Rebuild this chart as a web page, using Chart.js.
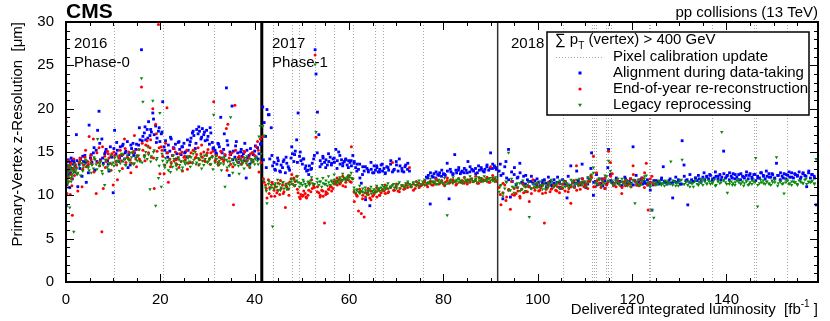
<!DOCTYPE html>
<html>
<head>
<meta charset="utf-8">
<script src="https://cdn.jsdelivr.net/npm/chart.js@4.4.1/dist/chart.umd.min.js"></script>
<style>
  html, body { margin: 0; padding: 0; background: #fff; }
  #pvChart { display: block; }
</style>
</head>
<body>
<canvas id="pvChart" width="830" height="321"></canvas>
<script>
// delivered luminosity (fb^-1) of each run, per year
const lumi2016 = [
  0.05,0.1,0.15,0.2,0.25,0.3,0.4,0.5,0.6,0.7,0.8,0.9,1.0,1.1,1.2,1.35,1.5,1.65,1.8,1.95,
  2.2,2.5,2.8,3.1,3.4,3.7,4.0,4.3,4.6,4.9,5.2,5.5,5.8,6.1,6.4,6.7,7.0,7.3,7.6,7.9,8.2,8.5,8.8,9.1,9.4,9.7,
  10.0,10.3,10.6,10.9,11.2,11.5,11.8,12.1,12.4,12.7,13.0,13.3,13.6,13.9,14.2,14.5,14.8,15.1,15.4,15.7,
  16.0,16.3,16.6,16.9,17.2,17.5,17.8,18.1,18.4,18.7,19.0,19.3,19.6,19.9,20.2,
  20.5,20.8,21.1,21.4,21.7,22.0,22.3,22.6,22.9,23.2,23.5,23.8,24.1,24.4,24.7,25.0,25.3,25.6,25.9,
  26.2,26.5,26.8,27.1,27.4,27.7,28.0,28.3,28.6,28.9,29.2,29.5,29.8,30.1,30.4,30.7,31.0,31.3,
  31.6,31.9,32.2,32.5,32.8,33.1,33.4,33.7,34.0,34.3,34.6,34.9,35.2,35.5,35.8,36.1,36.4,36.7,37.0,37.3,
  37.6,37.9,38.2,38.5,38.8,39.1,39.4,39.7,40.0,40.3,40.6,40.9,41.2
];
const align2016 = [
  8.8,12.1,13.5,11.2,12.8,13.9,12.4,14.1,12.9,13.3,10.9,13.8,12.6,14.3,13.1,11.9,13.6,14.0,12.7,13.4,
  17.0,11.0,13.6,14.2,12.2,13.9,14.6,11.5,13.4,18.1,14.3,13.8,14.9,12.9,15.2,17.5,19.7,14.1,16.5,13.7,14.8,15.3,14.0,12.8,15.6,14.4,
  10.3,17.5,14.8,15.2,13.9,15.6,14.6,15.9,14.2,15.1,16.2,14.7,13.5,15.4,16.0,14.9,15.3,14.5,15.8,16.4,
  26.8,16.8,17.2,16.4,17.6,18.5,16.9,17.3,19.5,17.0,18.0,16.6,17.4,16.2,17.1,
  20.8,15.6,16.3,14.9,15.8,15.1,16.5,14.6,15.4,15.9,14.8,16.1,15.3,14.7,15.6,16.0,15.0,14.4,15.2,
  15.8,16.6,17.2,16.9,15.4,17.6,17.1,17.4,16.5,17.7,17.0,16.3,17.5,16.8,15.9,17.2,16.1,15.5,
  15.2,14.8,16.0,15.6,19.0,14.9,15.3,14.6,22.4,15.8,12.3,14.7,20.3,15.1,14.4,16.2,14.9,14.2,15.0,14.5,
  14.8,16.0,12.0,14.3,14.6,15.4,13.9,14.7,15.1,14.4,15.5,14.8,15.9
];
const reco2016 = [
  18.5,11.3,12.6,10.2,13.0,12.1,14.0,11.6,13.2,12.8,13.5,10.1,12.4,13.7,11.9,7.7,13.1,14.2,12.3,13.6,
  13.2,10.5,13.8,14.1,11.0,13.5,14.4,13.3,13.9,16.8,14.6,13.6,16.5,14.2,10.2,13.8,15.5,14.0,5.8,10.8,14.5,13.9,15.1,14.3,13.7,14.8,
  11.2,14.6,13.9,11.8,14.3,15.2,14.0,14.7,16.5,13.8,14.4,15.0,14.1,13.7,14.9,16.9,14.2,14.6,15.3,14.0,
  22.5,15.2,14.6,15.8,16.3,14.9,15.5,14.4,20.0,10.8,18.2,15.1,29.7,12.5,15.6,
  14.5,12.5,16.0,20.1,11.5,14.2,13.8,14.6,14.0,15.0,13.6,14.3,14.8,13.9,12.8,14.4,14.1,15.2,13.7,
  14.5,14.9,13.8,15.2,14.3,14.7,15.5,14.1,14.8,14.4,15.0,13.9,14.6,15.3,14.2,14.9,14.5,20.8,
  14.0,14.6,13.8,14.4,15.1,14.2,13.9,14.7,17.7,18.2,14.3,13.6,14.9,8.9,20.4,14.1,13.8,14.5,14.2,13.7,
  14.4,15.0,14.0,13.5,14.3,14.8,14.1,13.9,14.6,15.6,16.2,12.7,16.5
];
const legacy2016 = [
  10.8,10.0,12.4,11.8,13.1,12.6,11.4,13.5,12.2,12.9,8.6,13.3,12.0,11.6,13.0,12.5,12.8,5.8,13.2,12.7,
  13.0,12.6,13.4,12.3,13.7,13.2,13.6,14.0,13.3,12.9,13.8,13.5,13.1,14.2,13.6,16.5,13.4,13.9,12.8,13.5,11.2,14.1,13.3,13.7,12.9,13.6,
  13.8,14.3,13.6,14.5,14.0,13.7,14.8,13.9,14.2,13.5,14.6,14.1,13.8,14.4,15.0,13.7,14.3,14.0,14.6,13.9,
  23.5,20.8,14.4,15.0,14.2,14.7,10.7,14.5,20.9,15.2,8.8,14.3,12.0,19.5,11.0,
  14.0,13.5,14.3,13.8,12.9,14.1,13.6,13.3,14.2,13.7,13.0,14.4,13.5,13.9,13.2,14.0,13.6,13.8,14.3,
  13.9,14.4,13.7,14.1,15.0,13.8,14.3,13.6,14.5,14.0,13.5,14.2,14.7,13.9,14.1,13.6,14.4,19.3,
  13.8,14.2,13.5,14.0,13.7,14.3,13.6,11.0,14.1,13.9,13.4,19.0,14.2,13.7,13.5,14.0,13.8,12.5,14.1,13.6,
  13.9,14.3,13.7,14.0,13.5,14.2,13.8,14.1,13.6,14.4,14.0,16.8,18.0
];
// second group of 2016 runs (between the ones above)
const lumi2016b = [
  0.45,0.85,1.25,1.75,
  2.35,2.95,3.55,4.15,4.75,5.35,5.95,6.55,7.15,7.75,
  8.35,8.95,9.55,10.15,10.75,11.35,11.95,12.55,13.15,13.75,
  14.35,14.95,15.55,16.15,16.75,17.35,17.95,18.55,19.15,19.75,
  20.35,20.95,21.55,22.15,22.75,23.35,23.95,24.55,25.15,25.75,
  26.35,26.95,27.55,28.15,28.75,29.35,29.95,30.55,31.15,31.75,
  32.35,32.95,33.55,34.15,34.75,35.35,35.95,36.55,37.15,37.75,
  38.35,38.95,39.55,40.15,40.75,41.35
];
const align2016b = [
  13.2,12.5,14.0,13.7,
  14.0,13.1,14.5,13.8,12.6,14.7,15.5,13.9,16.0,14.3,
  15.0,13.6,14.5,15.4,16.1,14.3,15.7,14.9,13.2,15.8,
  14.6,15.9,17.8,16.3,17.9,16.6,17.6,18.8,16.1,17.8,
  17.3,15.2,14.4,16.7,15.5,14.2,16.2,15.6,14.9,16.4,
  16.2,17.4,16.0,17.9,16.7,17.3,16.4,17.8,15.4,14.9,
  15.9,14.3,17.1,16.3,15.0,14.1,15.7,13.8,15.3,14.0,
  15.2,13.6,14.9,15.7,14.2,16.0
];
const reco2016b = [
  12.0,13.4,11.1,12.9,
  12.5,14.3,13.0,15.2,13.6,14.1,12.7,14.9,13.4,15.6,
  13.2,14.8,12.9,15.0,13.5,14.6,13.1,15.4,14.3,12.6,
  15.1,13.3,14.2,16.0,14.0,15.7,16.4,14.3,17.1,15.5,
  15.2,13.5,14.9,13.3,15.4,14.1,13.2,15.0,14.5,13.0,
  13.8,15.2,14.4,13.5,15.8,14.0,14.9,13.6,15.1,14.2,
  13.5,15.0,14.1,12.9,14.7,13.3,15.2,14.4,13.6,15.1,
  14.0,13.2,14.9,14.5,15.2,13.8
];
const legacy2016b = [
  11.6,12.9,12.2,13.6,
  12.4,13.9,12.8,14.1,13.2,12.6,14.4,13.0,13.7,12.5,
  14.1,13.0,14.6,13.4,14.0,12.8,14.7,13.5,14.2,14.9,
  13.6,14.5,15.3,13.8,14.6,15.6,13.9,15.0,14.1,13.4,
  14.8,13.2,14.0,12.7,14.6,13.4,14.1,12.9,13.8,14.5,
  13.3,14.8,13.6,14.2,13.1,14.6,13.8,14.3,13.0,14.5,
  13.6,12.9,14.4,13.2,13.9,12.6,14.2,13.4,14.0,13.1,
  14.5,13.3,13.9,14.2,13.6,14.8
];

const lumi2017 = [
  41.7,42.0,42.3,42.6,42.9,43.2,43.5,43.8,44.1,44.4,
  44.7,45.0,45.3,45.6,45.9,46.2,46.5,46.8,47.1,47.4,
  47.7,48.0,48.3,48.6,48.9,49.2,49.5,49.8,50.1,50.4,
  50.7,51.0,51.3,51.6,51.9,52.2,52.5,52.8,53.0,53.3,
  53.6,53.9,54.2,54.5,54.8,55.1,55.4,55.7,56.0,56.3,
  56.6,56.9,57.2,57.5,57.8,58.1,58.4,58.7,59.0,59.3,
  59.6,59.9,60.2,60.5,60.8,61.1,61.4,61.7,62.0,62.3,
  62.6,62.9,63.2,63.5,63.8,64.1,64.4,64.7,65.0,65.3,
  65.6,65.9,66.2,66.5,66.8,67.1,67.4,67.7,68.0,68.4,
  68.8,69.2,69.6,70.0,70.4,70.8,71.2,71.6,72.0,72.4,
  72.8,73.2,73.6,74.0,74.4,74.8,75.2,75.6,76.0,76.4,
  76.8,77.2,77.6,78.0,78.4,78.8,79.2,79.6,80.0,80.4,
  80.8,81.2,81.6,82.0,82.4,82.8,83.2,83.6,84.0,84.4,
  84.8,85.2,85.6,86.0,86.4,86.8,87.2,87.6,88.0,88.4,
  88.8,89.2,89.6,90.0,90.4,90.8,91.2
];
const align2017 = [
  20.2,18.4,16.8,19.9,19.3,14.2,17.8,13.4,13.8,12.9,
  13.6,14.0,12.8,13.5,13.2,14.1,12.6,13.7,13.3,12.9,
  14.3,14.8,13.9,15.1,16.4,19.5,14.5,14.0,13.6,14.2,
  13.1,12.8,12.9,13.4,13.0,13.7,14.2,26.8,24.0,19.6,
  17.0,14.0,13.6,14.3,13.8,14.1,13.5,13.9,14.4,13.7,
  14.2,13.8,15.3,14.0,15.0,13.6,14.1,13.7,13.9,14.2,
  13.5,14.0,13.8,13.4,14.6,13.9,13.2,13.6,13.0,12.0,
  11.4,13.3,12.8,9.5,13.1,12.7,8.8,13.0,12.6,13.4,
  12.9,13.2,12.7,13.0,13.5,12.8,13.1,12.6,13.3,12.9,
  13.6,12.7,13.0,13.9,12.8,13.4,13.1,12.7,13.5,13.0,
  12.8,null,null,null,null,null,null,null,null,12.1,
  12.3,9.0,12.2,12.5,12.0,12.4,12.6,12.2,12.5,12.3,
  13.7,9.6,12.7,12.4,14.7,12.6,12.9,12.5,12.8,12.6,
  12.9,13.9,12.7,13.0,12.8,13.1,12.6,12.9,13.2,12.8,
  13.0,13.3,12.9,14.9,13.1,13.4,13.0
];
const reco2017 = [
  16.8,11.5,11.2,9.7,11.8,10.9,9.9,11.3,10.6,11.0,
  10.3,11.4,10.1,10.8,11.2,10.4,8.6,11.0,10.7,11.5,
  11.9,11.3,12.0,11.6,12.2,10.3,9.8,10.1,9.9,10.5,
  10.2,9.7,10.0,11.4,10.4,10.8,11.1,26.2,16.7,11.0,
  10.3,10.0,10.6,9.9,6.8,10.4,10.2,10.7,11.0,10.5,
  10.8,11.3,11.6,11.2,11.8,11.4,11.7,11.1,11.9,11.5,
  11.8,12.1,11.6,15.6,11.9,9.3,10.2,9.9,8.2,10.4,
  7.9,10.0,7.5,9.8,10.3,10.1,9.7,10.5,9.9,10.2,
  10.4,9.8,10.6,10.0,10.3,10.7,10.5,10.2,10.8,10.4,
  10.9,13.8,10.6,11.0,10.5,10.8,11.1,10.7,11.2,10.9,
  13.2,11.0,11.3,10.8,11.2,11.4,11.1,11.3,11.5,11.2,
  11.4,11.6,11.2,11.5,11.3,11.7,11.4,11.6,11.3,11.5,
  11.7,11.4,11.8,11.5,11.6,11.3,11.9,11.5,11.7,11.4,
  11.6,11.8,11.5,11.9,11.6,11.7,11.4,12.0,11.6,11.8,
  11.7,12.0,11.5,13.3,11.8,11.9,11.6
];
const legacy2017 = [
  18.0,16.9,10.9,9.1,11.3,10.7,11.2,6.4,10.8,11.4,
  11.0,10.6,11.3,10.9,11.5,10.8,11.1,10.7,11.4,11.2,
  11.6,11.3,11.8,11.2,11.7,11.5,11.0,11.4,11.2,11.6,
  11.3,11.1,11.5,11.2,11.7,11.4,11.3,25.1,17.3,11.5,
  11.2,11.6,11.0,11.4,11.3,11.7,11.1,11.5,11.2,11.6,
  11.4,11.8,11.3,11.7,11.5,11.9,11.6,11.8,12.0,11.7,
  12.1,11.8,12.3,12.0,11.9,10.6,10.3,10.7,10.4,10.2,
  10.5,10.8,10.3,10.6,10.1,10.4,10.7,10.2,10.5,10.3,
  10.6,10.4,10.8,10.5,10.9,10.6,11.0,10.7,11.1,10.8,
  11.0,11.2,10.9,11.1,11.3,10.8,11.2,11.0,11.4,11.1,
  11.3,11.0,11.4,11.2,11.5,11.1,11.3,11.6,11.2,11.4,
  11.5,11.3,11.6,11.4,11.7,11.3,11.5,11.6,11.4,11.2,
  7.7,11.5,11.7,11.4,11.6,11.8,11.5,11.7,11.4,11.6,
  11.8,11.5,11.7,11.9,11.6,11.8,11.5,11.7,12.0,11.6,
  11.8,11.6,11.9,11.7,12.0,11.6,11.8
];
const lumi2017b = [
  41.85,42.45,43.05,43.65,44.25,44.85,45.45,46.05,46.65,47.25,
  47.85,48.45,49.05,49.65,50.25,50.85,51.45,52.05,52.65,53.25,
  53.85,54.45,55.05,55.65,56.25,56.85,57.45,58.05,58.65,59.25,
  59.85,60.45,61.05,61.65,62.25,62.85,63.45,64.05,64.65,65.25,
  65.85,66.45,67.05,67.65,68.25,68.85,69.45,70.05,70.65,71.25,
  71.85,72.45,73.05,73.65,74.25,74.85,75.45,76.05,76.65,77.25,
  77.85,78.45,79.05,79.65,80.25,80.85,81.45,82.05,82.65,83.25,
  83.85,84.45,85.05,85.65,86.25,86.85,87.45,88.05,88.65,89.25,
  89.85,90.45,91.05
];
const align2017b = [
  14.1,13.2,19.3,14.6,13.0,14.3,12.7,13.9,14.4,13.1,
  15.6,14.7,13.8,15.0,14.2,13.4,12.4,13.1,14.6,14.9,
  13.3,14.5,13.2,14.8,13.5,14.3,13.1,14.6,13.4,14.1,
  13.2,14.0,13.7,12.8,13.6,12.4,13.3,12.9,13.8,12.6,
  13.4,12.7,13.6,12.5,13.2,14.0,12.9,13.5,14.2,12.8,
  13.3,13.7,null,null,null,null,null,null,12.0,12.6,
  12.1,12.7,12.3,12.9,12.4,12.8,13.0,12.5,12.9,13.2,
  12.7,13.1,12.6,13.3,12.9,12.5,13.4,13.0,12.7,13.5,
  13.1,13.6,13.2
];
const reco2017b = [
  11.9,10.8,10.2,11.5,9.9,10.6,11.7,10.2,11.3,10.0,
  12.4,11.1,10.7,9.6,10.0,9.8,10.6,11.8,10.9,10.4,
  9.8,10.5,10.1,10.7,11.0,11.6,12.0,11.3,12.2,11.0,
  12.3,11.5,10.4,10.0,10.7,9.6,10.3,10.8,9.5,10.1,
  10.9,10.0,10.6,11.2,10.3,11.0,10.6,11.3,10.4,11.1,
  10.8,11.4,11.0,10.6,11.6,10.9,11.2,11.7,11.0,11.6,
  11.2,11.9,11.3,11.7,11.1,12.0,11.5,11.8,11.2,11.9,
  11.5,12.1,11.3,11.8,11.6,12.2,11.4,11.9,11.7,12.1,
  11.5,12.3,11.8
];
const legacy2017b = [
  11.7,10.5,11.6,10.9,11.2,11.8,10.6,11.5,11.1,10.8,
  11.9,11.1,12.2,11.4,11.8,11.0,11.6,12.1,11.3,11.9,
  11.6,12.0,11.3,12.2,11.7,12.4,11.5,12.1,12.5,11.9,
  12.2,12.6,10.9,10.6,11.1,10.4,10.9,10.5,11.0,10.7,
  11.1,10.8,11.2,10.9,11.4,11.0,11.3,10.8,11.5,11.2,
  11.0,11.6,11.2,11.5,11.1,11.7,11.3,11.8,11.4,11.9,
  11.6,11.3,11.8,11.5,12.0,11.4,11.7,12.1,11.6,11.9,
  11.5,12.0,11.7,12.2,11.6,11.9,12.1,11.7,12.2,11.8,
  12.0,11.7,12.1
];

const lumi2018 = [
  91.8,92.2,92.6,93.0,93.4,93.8,94.2,94.6,95.0,95.4,
  95.8,96.2,96.6,97.0,97.4,97.8,98.2,98.6,99.0,99.4,
  99.8,100.2,100.6,101.0,101.4,101.8,102.2,102.6,103.0,103.4,
  103.8,104.2,104.6,105.0,105.4,105.8,106.2,106.6,107.0,107.4,
  107.8,108.2,108.6,109.0,109.4,109.8,110.2,110.6,111.0,111.4,
  111.8,112.2,112.6,113.0,113.4,113.8,114.2,114.6,115.0,115.4,
  115.8,116.2,116.6,117.0,117.4,117.8,118.2,118.6,119.0,119.4,
  119.8,120.2,120.6,121.0,121.4,121.8,122.2,122.6,123.0,123.4,
  123.8,124.2,124.6,125.0,125.4,125.8,126.2,126.6,127.0,127.4,
  127.8,128.2,128.6,129.0,129.4,129.8,130.2,130.6,131.0,131.4,
  131.8,132.2,132.6,133.0,133.4,133.8,134.2,134.6,135.0,135.4,
  135.8,136.2,136.6,137.0,137.4,137.8,138.2,138.6,139.0,139.4,
  139.8,140.2,140.6,141.0,141.4,141.8,142.2,142.6,143.0,143.4,
  143.8,144.2,144.6,145.0,145.4,145.8,146.2,146.6,147.0,147.4,
  147.8,148.2,148.6,149.0,149.4,149.8,150.2,150.6,151.0,151.4,
  151.8,152.2,152.6,153.0,153.4,153.8,154.2,154.6,155.0,155.4,
  155.8,156.2,156.6,157.0,157.4,157.8,158.2,158.6,159.0
];
const align2018 = [
  12.8,12.3,9.6,13.3,12.0,15.3,9.8,11.6,12.4,11.2,
  12.1,13.7,11.5,12.2,11.3,11.8,11.0,11.6,11.4,11.7,
  11.2,11.5,11.0,11.4,11.8,10.9,11.3,11.6,11.1,11.4,
  11.2,12.1,11.5,10.8,11.3,11.6,9.7,11.2,13.4,11.5,
  11.0,11.4,11.7,11.2,13.6,11.5,10.9,11.3,11.8,14.9,
  10.0,11.6,11.2,11.9,11.4,11.1,11.7,11.3,15.3,12.4,
  11.5,11.2,11.8,11.4,11.6,11.1,11.5,11.9,11.3,11.6,
  11.4,15.6,11.7,11.2,11.5,11.8,11.3,11.6,11.4,11.2,
  11.5,8.3,11.7,11.3,11.6,11.4,11.8,13.3,11.5,11.3,
  11.7,11.4,9.7,11.6,11.5,11.8,11.3,16.3,13.5,11.7,
  8.9,11.5,11.8,11.6,12.0,11.7,11.9,11.5,12.1,11.8,
  12.2,11.9,12.3,11.7,12.0,12.2,11.9,12.4,12.1,15.1,
  12.0,12.3,11.8,12.2,12.5,11.9,12.1,12.4,11.8,12.2,
  12.0,12.3,11.9,12.5,12.1,12.4,11.7,12.2,12.0,12.6,
  12.3,11.9,12.2,12.5,12.1,12.4,12.0,13.7,12.3,11.8,
  12.2,12.5,11.9,12.3,12.1,12.6,12.0,12.4,12.2,12.7,
  12.1,12.5,12.3,11.0,12.6,12.0,12.4,12.2,8.9
];
// end-of-year re-reconstruction only exists up to ~124.6 fb^-1
const reco2018 = [
  10.9,8.9,10.3,11.2,9.8,10.6,8.4,10.1,10.8,10.2,
  10.5,9.9,10.7,10.3,11.0,10.4,9.3,10.8,11.8,10.6,
  11.0,10.5,10.9,10.2,6.8,10.7,11.1,10.4,10.8,11.2,
  10.6,11.0,10.3,10.9,11.3,10.5,11.1,10.8,9.1,11.4,
  10.9,13.4,11.2,10.7,11.5,11.0,11.3,10.8,11.6,12.1,
  14.5,11.0,11.7,11.3,10.9,11.5,12.0,11.2,15.1,13.8,
  12.5,11.4,11.0,11.6,11.2,10.2,11.5,11.1,11.7,11.3,
  11.0,13.4,11.6,11.2,11.8,11.4,12.0,10.9,13.7,8.3,
  11.5,12.2,11.3
];
const legacy2018 = [
  10.4,11.2,9.9,10.8,11.5,14.9,10.6,11.0,10.3,11.3,
  10.9,11.4,10.7,11.1,10.5,11.2,7.5,10.8,11.3,10.9,
  11.4,11.0,11.2,10.7,11.5,11.1,10.9,11.3,11.6,11.0,
  11.2,11.5,10.8,11.3,11.7,11.0,11.4,10.9,11.2,11.6,
  11.3,11.8,11.1,11.5,11.2,11.6,11.0,11.4,11.9,12.4,
  13.2,11.5,11.3,11.8,11.1,11.6,11.4,12.2,14.0,12.8,
  11.7,11.3,11.5,11.9,11.2,11.6,11.4,11.8,11.1,11.5,
  11.3,11.7,9.1,11.4,11.8,11.2,11.6,11.9,12.3,11.5,
  11.2,8.3,7.4,11.5,11.3,11.6,11.2,11.4,11.7,11.3,
  11.5,13.9,11.2,11.6,11.4,11.1,11.7,14.1,11.3,11.5,
  11.2,11.6,11.4,11.0,11.7,11.3,11.5,11.8,11.2,11.6,
  11.4,11.7,11.3,11.5,11.8,11.2,11.6,11.4,17.3,11.7,
  11.5,10.3,11.3,11.6,11.4,11.2,11.7,11.5,11.3,11.6,
  11.4,11.7,11.2,11.5,11.3,11.6,14.3,8.7,11.4,11.5,
  11.7,11.3,11.6,11.4,11.2,11.5,11.8,14.4,11.4,11.6,
  11.3,10.2,11.5,11.7,11.4,11.2,11.6,11.5,11.3,11.7,
  11.5,11.4,11.8,11.3,11.6,11.5,11.7,11.4,14.2
];
const lumi2018b = [
  92.05,92.65,93.25,93.85,94.45,95.05,95.65,96.25,96.85,97.45,
  98.05,98.65,99.25,99.85,100.45,101.05,101.65,102.25,102.85,103.45,
  104.05,104.65,105.25,105.85,106.45,107.05,107.65,108.25,108.85,109.45,
  110.05,110.65,111.25,111.85,112.45,113.05,113.65,114.25,114.85,115.45,
  116.05,116.65,117.25,117.85,118.45,119.05,119.65,120.25,120.85,121.45,
  122.05,122.65,123.25,123.85,124.45,125.05,125.65,126.25,126.85,127.45,
  128.05,128.65,129.25,129.85,130.45,131.05,131.65,132.25,132.85,133.45,
  134.05,134.65,135.25,135.85,136.45,137.05,137.65,138.25,138.85,139.45,
  140.05,140.65,141.25,141.85,142.45,143.05,143.65,144.25,144.85,145.45,
  146.05,146.65,147.25,147.85,148.45,149.05,149.65,150.25,150.85,151.45,
  152.05,152.65,153.25,153.85,154.45,155.05,155.65,156.25,156.85,157.45,
  158.05,158.65
];
const align2018b = [
  13.6,12.5,13.9,11.8,12.7,13.2,12.0,12.6,11.4,12.3,
  11.6,12.2,11.3,11.9,11.1,11.7,11.4,12.1,11.2,11.8,
  11.5,10.9,11.8,11.3,12.2,11.0,11.6,12.8,11.4,11.9,
  11.2,12.0,13.1,11.5,12.4,11.3,11.9,10.8,13.2,11.7,
  11.3,12.0,11.6,11.1,12.1,11.5,11.9,11.2,12.3,11.6,
  12.0,11.4,11.8,10.6,11.2,11.7,11.3,12.0,11.6,11.4,
  11.9,11.5,12.1,11.7,11.3,12.2,11.8,12.4,11.6,12.0,
  12.3,11.8,12.6,12.1,12.4,11.9,12.7,12.2,11.8,12.5,
  12.2,12.6,12.0,12.4,11.8,12.5,12.1,12.7,12.3,11.9,
  12.4,12.0,12.6,12.2,12.8,12.1,12.5,11.9,12.3,12.6,
  12.0,12.4,12.7,12.1,12.5,12.3,11.9,12.6,12.2,12.8,
  12.4,12.0
];
const reco2018b = [
  10.1,11.4,9.4,10.7,11.6,10.0,10.9,9.7,11.3,10.4,
  11.0,10.2,10.9,11.4,10.6,11.2,10.3,11.5,10.7,11.1,
  10.5,11.3,10.8,11.6,10.4,11.0,11.7,10.6,11.3,11.9,
  11.1,11.6,12.3,11.0,12.6,11.4,11.8,10.8,11.5,12.2,
  11.1,11.7,11.3,10.9,11.6,11.2,11.9,12.4,11.5,11.1,
  11.8,12.6,11.2,11.9,11.4
];
const legacy2018b = [
  11.1,10.2,11.6,10.6,11.9,10.9,11.4,10.5,11.7,11.0,
  11.5,10.8,11.3,10.9,11.6,11.1,10.7,11.4,11.8,11.0,
  11.3,11.7,10.9,11.5,11.2,11.8,11.0,11.4,11.9,11.3,
  11.6,12.1,11.8,12.6,11.4,11.9,11.2,12.3,11.7,11.5,
  11.2,11.7,11.4,11.9,11.3,11.6,11.0,11.8,11.5,11.2,
  11.6,12.2,11.4,11.0,11.5,11.2,11.7,11.4,11.1,11.6,
  11.3,11.7,11.1,11.5,11.8,11.3,11.6,11.0,11.4,11.7,
  11.2,11.5,11.9,11.3,11.6,11.4,11.1,11.7,11.5,11.8,
  11.3,11.6,11.2,11.5,11.8,11.4,11.1,11.6,11.3,11.7,
  11.5,11.2,11.8,11.4,11.6,11.3,11.7,11.5,11.1,11.6,
  11.4,11.8,11.3,11.6,11.5,11.2,11.7,11.4,11.9,11.5,
  11.6,11.3
];

// pixel calibration updates and year boundaries (fb^-1)
const calibLumi = [10.2,20.5,31.4,43.9,47.9,49.4,52.8,56.8,60.8,65.5,67.2,75.6,
  105.4,111.5,111.9,112.3,114.4,114.8,115.5,123.5,123.8,136.9,145.8,146.2,152.8];
const yearEdges = [41.5, 91.5];

const seriesNames = ["Alignment during data-taking", "End-of-year re-reconstruction", "Legacy reprocessing"];
const seriesColors = ["#0000ff", "#ff0000", "#0a8a0a"];

const FONT = '"Liberation Sans", Arial, Helvetica, sans-serif';
Chart.defaults.font.family = FONT;

function toPoints(lumi, vals) {
  return lumi.map((x, i) => ({ x: x, y: vals[i] }))
    .filter(p => p.y !== null && p.y !== undefined);
}

const alignPoints = [].concat(
  toPoints(lumi2016, align2016), toPoints(lumi2016b, align2016b),
  toPoints(lumi2017, align2017), toPoints(lumi2017b, align2017b),
  toPoints(lumi2018, align2018), toPoints(lumi2018b, align2018b));
const recoPoints = [].concat(
  toPoints(lumi2016, reco2016), toPoints(lumi2016b, reco2016b),
  toPoints(lumi2017, reco2017), toPoints(lumi2017b, reco2017b),
  toPoints(lumi2018, reco2018), toPoints(lumi2018b, reco2018b));
const legacyPoints = [].concat(
  toPoints(lumi2016, legacy2016), toPoints(lumi2016b, legacy2016b),
  toPoints(lumi2017, legacy2017), toPoints(lumi2017b, legacy2017b),
  toPoints(lumi2018, legacy2018), toPoints(lumi2018b, legacy2018b));

function drawText(ctx, s, x, y, size, opts) {
  opts = opts || {};
  ctx.font = (opts.bold ? "bold " : "") + size + "px " + FONT;
  ctx.textAlign = opts.align || "left";
  ctx.textBaseline = "alphabetic";
  ctx.fillStyle = "#000";
  ctx.fillText(s, x, y);
  return ctx.measureText(s).width;
}

// frame, ticks, calibration lines, labels and legend in ROOT style
const cmsDecor = {
  id: "cmsDecor",
  beforeDatasetsDraw(chart) {
    const { ctx, chartArea: a, scales: { x } } = chart;
    ctx.save();
    ctx.strokeStyle = "#a8a8a8";
    ctx.lineWidth = 1;
    ctx.setLineDash([1, 2]);
    calibLumi.forEach(v => {
      const px = Math.round(x.getPixelForValue(v)) + 0.5;
      ctx.beginPath();
      ctx.moveTo(px, a.top);
      ctx.lineTo(px, a.bottom);
      ctx.stroke();
    });
    ctx.setLineDash([]);
    yearEdges.forEach((v, i) => {
      const px = x.getPixelForValue(v);
      ctx.strokeStyle = i === 0 ? "#000" : "#333";
      ctx.lineWidth = i === 0 ? 3 : 1.5;
      ctx.beginPath();
      ctx.moveTo(px, a.top);
      ctx.lineTo(px, a.bottom);
      ctx.stroke();
    });
    ctx.restore();
  },
  afterDraw(chart) {
    const { ctx, chartArea: a, scales: { x, y } } = chart;
    ctx.save();

    // frame
    ctx.strokeStyle = "#000";
    ctx.lineWidth = 2;
    ctx.strokeRect(a.left, a.top, a.right - a.left, a.bottom - a.top);

    // inward ticks on all four sides
    ctx.lineWidth = 1;
    ctx.beginPath();
    for (let v = 0; v <= x.max; v += 5) {
      const px = Math.round(x.getPixelForValue(v)) + 0.5;
      const len = v % 20 === 0 ? 8 : 4;
      ctx.moveTo(px, a.bottom); ctx.lineTo(px, a.bottom - len);
      ctx.moveTo(px, a.top); ctx.lineTo(px, a.top + len);
    }
    for (let v = 0; v <= 30; v += 1) {
      const py = Math.round(y.getPixelForValue(v)) + 0.5;
      const len = v % 5 === 0 ? 8 : 4;
      ctx.moveTo(a.left, py); ctx.lineTo(a.left + len, py);
      ctx.moveTo(a.right, py); ctx.lineTo(a.right - len, py);
    }
    ctx.stroke();

    // header
    drawText(ctx, "CMS", 66, 18, 21, { bold: true });
    drawText(ctx, "pp collisions (13 TeV)", 818, 17, 15, { align: "right" });

    // period labels
    drawText(ctx, "2016", 74, 48, 15);
    drawText(ctx, "Phase-0", 74, 67, 15);
    drawText(ctx, "2017", 272, 48, 15);
    drawText(ctx, "Phase-1", 272, 67, 15);
    drawText(ctx, "2018", 511, 48, 15);

    // x axis title, right aligned
    ctx.font = "15px " + FONT;
    const xa = "Delivered integrated luminosity  [fb";
    const xb = " ]";
    const wa = ctx.measureText(xa).width;
    const wb = ctx.measureText(xb).width;
    ctx.font = "10px " + FONT;
    const ws = ctx.measureText("-1").width;
    let sx = 818 - wa - ws - wb;
    drawText(ctx, xa, sx, 314, 15);
    drawText(ctx, "-1", sx + wa, 307, 10);
    drawText(ctx, xb, sx + wa + ws, 314, 15);

    // y axis title, rotated and aligned to the top
    ctx.save();
    ctx.translate(22, a.top);
    ctx.rotate(-Math.PI / 2);
    drawText(ctx, "Primary-Vertex z-Resolution  [\u03bcm]", 0, 0, 15, { align: "right" });
    ctx.restore();

    // legend box
    const L = 547, R = 809, T = 32, B = 115;
    ctx.fillStyle = "#fff";
    ctx.fillRect(L, T, R - L, B - T);
    ctx.strokeStyle = "#000";
    ctx.lineWidth = 1.5;
    ctx.strokeRect(L, T, R - L, B - T);

    let tx = 555;
    tx += drawText(ctx, "\u2211 p", tx, 44, 15);
    tx += drawText(ctx, "T", tx, 49, 10);
    drawText(ctx, " (vertex) > 400 GeV", tx, 44, 15);

    ctx.strokeStyle = "#a8a8a8";
    ctx.lineWidth = 1;
    ctx.setLineDash([1, 2]);
    ctx.beginPath();
    ctx.moveTo(556, 57.5); ctx.lineTo(604, 57.5);
    ctx.stroke();
    ctx.setLineDash([]);
    drawText(ctx, "Pixel calibration update", 613, 60.5, 15);

    const rows = [77, 93, 109];
    const ds = chart.data.datasets;
    rows.forEach((base, i) => {
      const cy = base - 4;
      ctx.fillStyle = ds[i].pointBackgroundColor;
      ctx.beginPath();
      if (i === 0) {
        ctx.rect(578.5, cy - 1.5, 3, 3);
      } else if (i === 1) {
        ctx.arc(580, cy, 1.6, 0, Math.PI * 2);
      } else {
        ctx.moveTo(578, cy - 1.2); ctx.lineTo(582, cy - 1.2); ctx.lineTo(580, cy + 2);
        ctx.closePath();
      }
      ctx.fill();
      drawText(ctx, ds[i].label, 613, base, 15);
    });

    ctx.restore();
  }
};

const ctx = document.getElementById("pvChart").getContext("2d");
new Chart(ctx, {
  type: "scatter",
  data: {
    datasets: [
      {
        label: seriesNames[0],
        data: alignPoints,
        pointStyle: "rect",
        pointRadius: 2.0,
        pointBackgroundColor: seriesColors[0],
        pointBorderWidth: 0,
        order: 3
      },
      {
        label: seriesNames[1],
        data: recoPoints,
        pointStyle: "circle",
        pointRadius: 1.5,
        pointBackgroundColor: seriesColors[1],
        pointBorderWidth: 0,
        order: 2
      },
      {
        label: seriesNames[2],
        data: legacyPoints,
        pointStyle: "triangle",
        rotation: 180,
        pointRadius: 2.0,
        pointBackgroundColor: seriesColors[2],
        pointBorderWidth: 0,
        order: 1
      }
    ]
  },
  options: {
    responsive: false,
    animation: false,
    events: [],
    layout: { padding: { top: 22, right: 12, left: 0, bottom: 0 } },
    plugins: {
      legend: { display: false },
      tooltip: { enabled: false }
    },
    scales: {
      x: {
        type: "linear",
        min: 0,
        max: 159.4,
        grid: { display: false },
        border: { display: false },
        ticks: {
          stepSize: 20,
          includeBounds: false,
          padding: 1,
          color: "#000",
          font: { size: 15 },
          maxRotation: 0
        },
        afterFit(scale) { scale.height = 39; }
      },
      y: {
        min: 0,
        max: 30,
        grid: { display: false },
        border: { display: false },
        ticks: {
          stepSize: 5,
          padding: 4,
          color: "#000",
          font: { size: 15 }
        },
        afterFit(scale) { scale.width = 66; }
      }
    }
  },
  plugins: [cmsDecor]
});
</script>
</body>
</html>
